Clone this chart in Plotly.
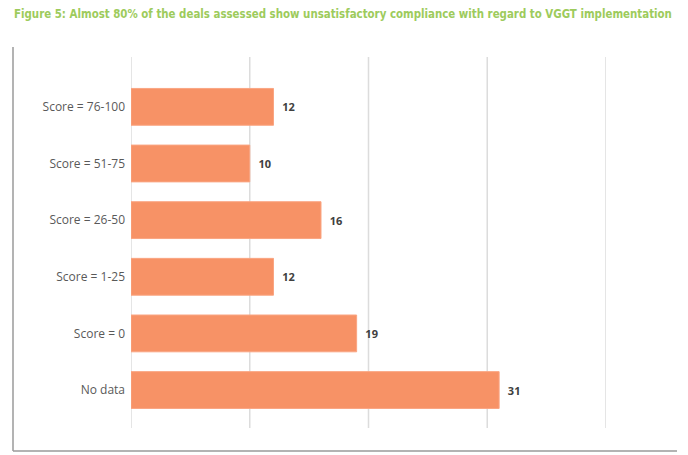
import plotly.graph_objects as go

categories = ["No data", "Score = 0", "Score = 1-25", "Score = 26-50", "Score = 51-75", "Score = 76-100"]
deals = [31, 19, 12, 16, 10, 12]
x_ticks = [0, 10, 20, 30, 40]

title_text = "Figure 5: Almost 80% of the deals assessed show unsatisfactory compliance with regard to VGGT implementation"

# page body has an 8px margin; figure drawn at (8, 8)
OFF = 8
W, H = 688 - OFF, 455 - OFF
L, R, T, B = 131 - OFF, 82, 57 - OFF, 27
pw, ph = W - L - R, H - T - B

def px_x(p):
    return (p - OFF - L) / pw

def px_y(p):
    return (H - B - (p - OFF)) / ph

fig = go.Figure()
fig.add_trace(go.Bar(
    y=categories,
    x=deals,
    orientation="h",
    marker=dict(color="#F79266", line=dict(color="#FAA582", width=1)),
    width=0.65,
    text=deals,
    texttemplate="\u00a0\u00a0%{x}",
    textposition="outside",
    cliponaxis=False,
    textfont=dict(family="Open Sans", size=11, color="#404040", weight="bold"),
    hoverinfo="skip",
))

grid_shapes = [
    dict(type="line", xref="x", yref="paper", x0=v, x1=v, y0=0, y1=1,
         layer="below", line=dict(color="#DCDCDC", width=1.5))
    for v in x_ticks
]

fig.update_layout(
    width=W, height=H,
    margin=dict(l=L, r=R, t=T, b=B),
    paper_bgcolor="white",
    plot_bgcolor="white",
    showlegend=False,
    xaxis=dict(
        range=[0, 40],
        tickvals=x_ticks,
        showticklabels=False,
        showgrid=False,
        zeroline=False,
        showline=False,
        fixedrange=True,
    ),
    yaxis=dict(
        type="category",
        categoryorder="array",
        categoryarray=categories,
        range=[-0.67, 5.88],
        showgrid=False,
        zeroline=False,
        showline=False,
        ticks="",
        ticklabelstandoff=5,
        tickfont=dict(family="Open Sans", size=12, color="#595959"),
    ),
    shapes=grid_shapes + [
        dict(type="line", xref="paper", yref="paper",
             x0=px_x(13), x1=px_x(13), y0=px_y(47), y1=px_y(451),
             line=dict(color="#9A9A9A", width=1.5)),
        dict(type="line", xref="paper", yref="paper",
             x0=px_x(13), x1=px_x(677), y0=px_y(451), y1=px_y(451),
             line=dict(color="#9A9A9A", width=1.5)),
    ],
    annotations=[
        dict(text=title_text, xref="paper", yref="paper",
             x=px_x(12), y=px_y(14), xanchor="left", yanchor="middle",
             showarrow=False,
             font=dict(family="DejaVu Sans Condensed", size=11.4, color="#9DCB5C", weight="bold")),
    ],
)

fig.write_html("out.html")
